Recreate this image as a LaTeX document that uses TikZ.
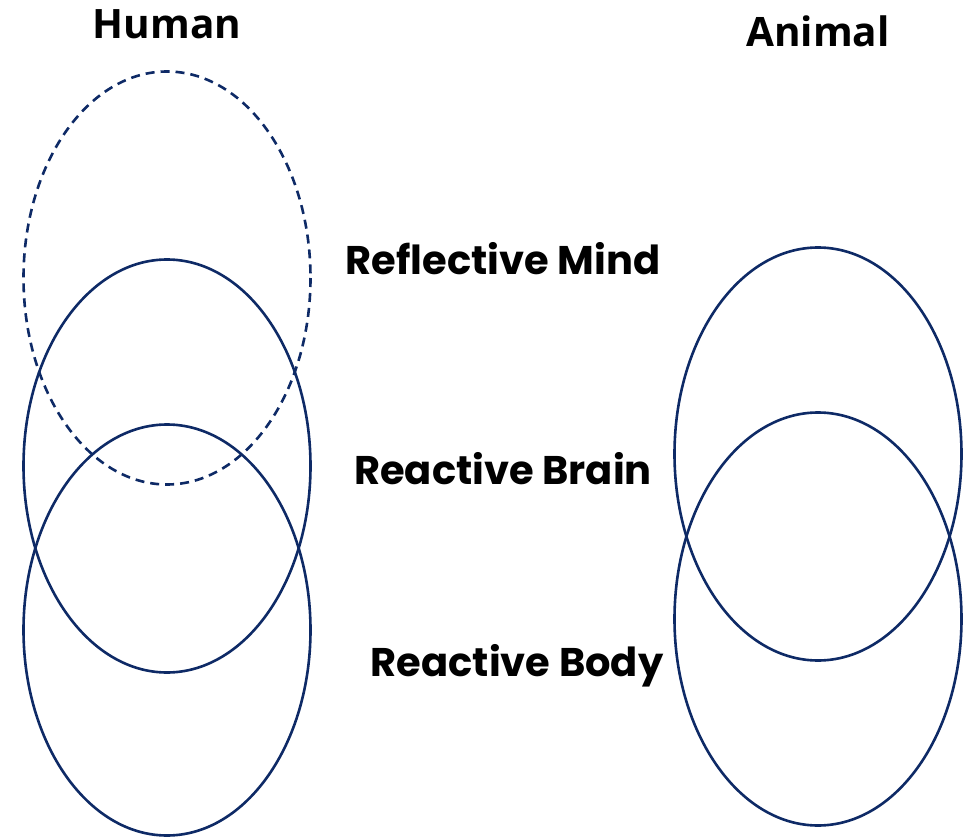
\documentclass[tikz,border=0pt]{standalone}
\usepackage{fontspec}
\setmainfont{Open Sans}
\newfontfamily\geo{Poppins}
\definecolor{navy}{HTML}{0E2A66}
\begin{document}
\begin{tikzpicture}[x=1pt,y=-1pt,
  ring/.style={draw=navy,line width=2.6pt},
  ringdash/.style={ring,dash pattern=on 9pt off 6pt},
  title/.style={font=\fontsize{40.5}{44}\selectfont\bfseries,text=black,inner sep=0pt},
  lbl/.style={font=\geo\fontsize{40}{44}\selectfont\bfseries,text=black,inner sep=0pt}]
\useasboundingbox (0,0) rectangle (972,837);
\draw[ringdash] (167,278) ellipse [x radius=143.5, y radius=206.5];
\draw[ring] (167,466) ellipse [x radius=143.5, y radius=206.5];
\draw[ring] (167,630) ellipse [x radius=143.5, y radius=205.5];
\draw[ring] (818,454) ellipse [x radius=143.5, y radius=206.5];
\draw[ring] (818,619) ellipse [x radius=143.5, y radius=206.5];
\node[title] (human) at (167,24) {Human};
\node[title] (animal) at (818,31) {Animal};
\node[lbl] (mind) at (503,259) {Reflective Mind};
\node[lbl] (brain) at (503,469) {Reactive Brain};
\node[lbl] (body) at (517,666) {Reactive Body};
\end{tikzpicture}
\end{document}
